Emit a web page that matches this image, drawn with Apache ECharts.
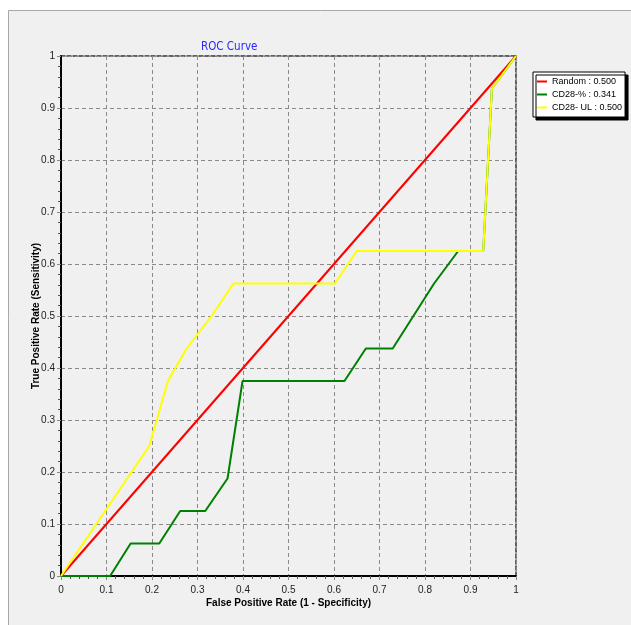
<!DOCTYPE html>
<html>
<head>
<meta charset="utf-8">
<script src="https://cdn.jsdelivr.net/npm/echarts@6/dist/echarts.min.js"></script>
<style>
html,body{margin:0;padding:0;background:#fff;}
#chart{width:631px;height:625px;}
</style>
</head>
<body>
<div id="chart"></div>
<script>
var seriesNames = ["Random : 0.500", "CD28-% : 0.341", "CD28- UL : 0.500"];
var seriesColors = ["#ff0000", "#008000", "#ffff00"];

var randomX = [0, 1];
var randomY = [0, 1];

var cd28PctX = [0, 0.108, 0.153, 0.216, 0.262, 0.317, 0.366, 0.399, 0.623, 0.670, 0.729, 0.82, 0.873, 0.928, 0.947, 1];
var cd28PctY = [0, 0, 0.0625, 0.0625, 0.125, 0.125, 0.1875, 0.375, 0.375, 0.4375, 0.4375, 0.5625, 0.625, 0.625, 0.9375, 1];

var cd28ULX = [0, 0.194, 0.235, 0.276, 0.331, 0.379, 0.602, 0.650, 0.928, 0.947, 1];
var cd28ULY = [0, 0.25, 0.375, 0.4375, 0.5, 0.5625, 0.5625, 0.625, 0.625, 0.9375, 1];

var tickLabels = ["0", "0.1", "0.2", "0.3", "0.4", "0.5", "0.6", "0.7", "0.8", "0.9", "1"];

function pairs(xs, ys) { return xs.map(function (x, i) { return [x, ys[i]]; }); }
function fmt(v) { var i = Math.round(v * 10); return tickLabels[i] !== undefined ? tickLabels[i] : ""; }

var FONT = "'DejaVu Sans Condensed', 'Liberation Sans', sans-serif";
var FONT2 = "'Liberation Sans', Arial, sans-serif";
var chart = echarts.init(document.getElementById("chart"), null, {renderer: "canvas"});

function mainAxis(isX, nameText) {
  return {
    type: "value", min: 0, max: 1, interval: 0.1,
    position: isX ? "bottom" : "left",
    name: nameText, nameLocation: "middle", nameGap: isX ? 22 : 20,
    nameMoveOverlap: false,
    nameTextStyle: {fontFamily: FONT2, fontSize: 10, fontWeight: "bold", color: "#000"},
    axisLine: {show: true, onZero: false, lineStyle: {color: "#000", width: 2}},
    axisTick: {show: true, length: 5, lineStyle: {color: "#888", type: "dashed"}},
    minorTick: {show: true, splitNumber: 5, length: 3, lineStyle: {color: "#555"}},
    axisLabel: {fontFamily: FONT2, fontSize: 10, color: "#222", margin: isX ? 9 : 6, formatter: fmt},
    splitLine: {show: true, lineStyle: {color: "#8a8a8a", type: [4, 3], width: 1}},
    z: 1
  };
}
function borderAxis(isX) {
  return {
    type: "value", min: 0, max: 1, interval: 0.1,
    position: isX ? "top" : "right",
    axisLine: {show: true, onZero: false, lineStyle: {color: "#333", width: 1.5, type: [4, 2]}},
    axisTick: {show: false}, axisLabel: {show: false}, splitLine: {show: false}
  };
}

var option = {
  backgroundColor: "#ffffff",
  animation: false,
  graphic: [{
    type: "rect", z: -100, silent: true,
    shape: {x: 8.5, y: 10.5, width: 700, height: 700},
    style: {fill: "#f0f0f0", stroke: "#a8a8a8", lineWidth: 1}
  }],
  title: {
    text: "ROC Curve", left: 196, top: 36,
    textStyle: {fontFamily: FONT, fontSize: 11.5, fontWeight: "normal", color: "#2727ff"}
  },
  legend: {
    orient: "vertical", left: 533, top: 72,
    backgroundColor: "#ffffff", borderColor: "#000", borderWidth: 1,
    shadowColor: "#000", shadowBlur: 0, shadowOffsetX: 3, shadowOffsetY: 3,
    padding: [3, 3, 3, 4], itemGap: 0, itemWidth: 10, itemHeight: 2,
    icon: "rect",
    textStyle: {fontFamily: FONT2, fontSize: 9, color: "#000", lineHeight: 13},
    data: seriesNames
  },
  grid: {left: 61, right: 115, top: 56, bottom: 49, containLabel: false},
  xAxis: [mainAxis(true, "False Positive Rate (1 - Specificity)"), borderAxis(true)],
  yAxis: [mainAxis(false, "True Positive Rate (Sensitivity)"), borderAxis(false)],
  series: [
    {name: seriesNames[0], type: "line", data: pairs(randomX, randomY), showSymbol: false, symbol: "none",
     lineStyle: {color: seriesColors[0], width: 2}, itemStyle: {color: seriesColors[0]}, z: 3},
    {name: seriesNames[1], type: "line", data: pairs(cd28PctX, cd28PctY), showSymbol: false, symbol: "none",
     lineStyle: {color: seriesColors[1], width: 2}, itemStyle: {color: seriesColors[1]}, z: 4},
    {name: seriesNames[2], type: "line", data: pairs(cd28ULX, cd28ULY), showSymbol: false, symbol: "none",
     lineStyle: {color: seriesColors[2], width: 2}, itemStyle: {color: seriesColors[2]}, z: 5}
  ]
};
chart.setOption(option);
</script>
</body>
</html>
